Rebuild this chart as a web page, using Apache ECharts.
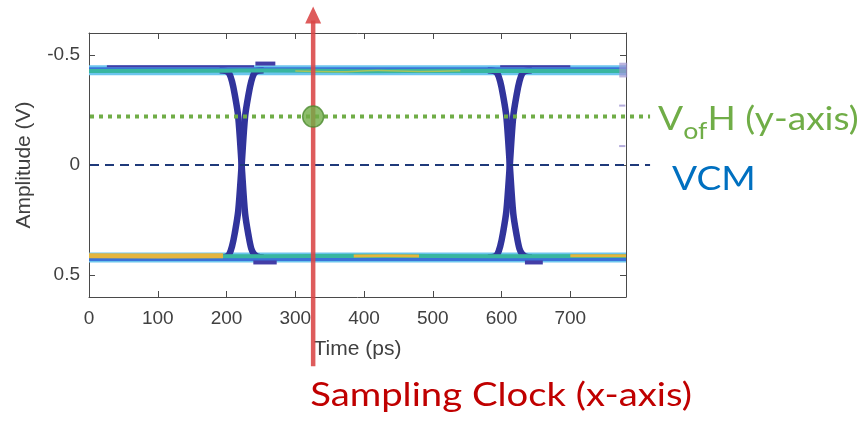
<!DOCTYPE html>
<html>
<head>
<meta charset="utf-8">
<script src="https://cdn.jsdelivr.net/npm/echarts@6/dist/echarts.min.js"></script>
<style>
  html, body { margin: 0; padding: 0; background: #ffffff; }
  #chart { width: 865px; height: 422px; }
</style>
</head>
<body>
<div id="chart"></div>
<script>
// ---- axes ----
const timeRange = [0, 781];          // ps
const ampRange = [-0.6, 0.6];        // V (drawn inverted)
const timeTicks = [0, 100, 200, 300, 400, 500, 600, 700];
const ampTicks = [-0.5, 0, 0.5];

// ---- reference levels ----
const vofhLevel = -0.22;             // VofH threshold
const vcmLevel = 0;                  // common-mode level
const samplingTime = 326;            // ps, sampling clock position
const refLineSpan = [0, 816];        // reference lines run past the frame to their labels
const clockArrowSpan = [0.915, -0.72];

// ---- eye rails: [time ps, amplitude V] ----
const upperRailBand = [[0, -0.431], [781, -0.431]];
const upperRailBlue = [[0, -0.438], [781, -0.438]];
const upperRailCore = [[0, -0.427], [180, -0.428], [260, -0.430], [400, -0.426], [520, -0.428], [781, -0.427]];
const upperRailGlint = [[300, -0.427], [360, -0.424], [420, -0.429], [480, -0.425], [540, -0.428]];
const upperOvershootA = [[26, -0.449], [240, -0.449]];
const upperBumpA = [[242, -0.461], [271, -0.461]];
const upperOvershootB = [[598, -0.449], [700, -0.449]];

const lowerRailBand = [[0, 0.420], [781, 0.420]];
const lowerRailBlue = [[0, 0.429], [781, 0.429]];
const lowerRailCore = [[0, 0.414], [250, 0.415], [400, 0.413], [600, 0.415], [781, 0.414]];
const lowerRailWarmA = [[0, 0.413], [100, 0.414], [195, 0.413]];
const lowerRailWarmB = [[385, 0.414], [430, 0.412], [480, 0.414]];
const lowerRailWarmC = [[700, 0.413], [781, 0.413]];
const lowerUndershootA = [[239, 0.443], [273, 0.443]];
const lowerUndershootB = [[634, 0.443], [660, 0.443]];

// ---- transitions (eye crossings near 222 ps and 612 ps) ----
const edgeFall1 = [[190, -0.431], [199, -0.428], [204, -0.415], [208, -0.38], [212, -0.32], [217, -0.22], [222, 0],
  [227, 0.22], [232, 0.32], [236, 0.38], [240, 0.405], [245, 0.416], [254, 0.42]];
const edgeRise1 = [[190, 0.42], [199, 0.417], [204, 0.405], [208, 0.37], [212, 0.31], [217, 0.21], [222, 0],
  [227, -0.22], [232, -0.32], [236, -0.38], [240, -0.415], [245, -0.428], [254, -0.431]];
const edgeFall2 = [[580, -0.431], [589, -0.428], [594, -0.415], [598, -0.38], [602, -0.32], [607, -0.22], [612, 0],
  [617, 0.22], [622, 0.32], [626, 0.38], [630, 0.405], [635, 0.416], [644, 0.42]];
const edgeRise2 = [[580, 0.42], [589, 0.417], [594, 0.405], [598, 0.37], [602, 0.31], [607, 0.21], [612, 0],
  [617, -0.22], [622, -0.32], [626, -0.38], [630, -0.415], [635, -0.428], [644, -0.431]];

// faint marks at the right frame edge
const edgeBlob = [[777, -0.465], [777, -0.398]];
const edgeTickA = [[771, -0.27], [780, -0.27]];
const edgeTickB = [[771, -0.086], [780, -0.086]];

const C = {
  traceBlue: '#31349c',
  band: '#6cc5ee',
  blue: '#3a72d8',
  teal: '#38b6a0',
  glint: '#a6c55a',
  warm: '#e4b53e',
  darkEdge: '#433da6',
  green: '#70ad47',
  navy: '#1f3a7a',
  red: 'rgba(218, 70, 70, 0.88)',
  axis: '#4a4a4a',
  text: '#404040'
};

function line(data, color, width, z, extra) {
  return Object.assign({
    type: 'line',
    data: data,
    symbol: 'none',
    silent: true,
    animation: false,
    z: z,
    lineStyle: { color: color, width: width, cap: 'butt' }
  }, extra || {});
}

const series = [
  line(upperRailBand, C.band, 10, 2),
  line(lowerRailBand, C.band, 10, 2),
  line(edgeFall1, C.traceBlue, 6.5, 3, { smooth: 0.3 }),
  line(edgeRise1, C.traceBlue, 6.5, 3, { smooth: 0.3 }),
  line(edgeFall2, C.traceBlue, 6.5, 3, { smooth: 0.3 }),
  line(edgeRise2, C.traceBlue, 6.5, 3, { smooth: 0.3 }),
  line(upperRailBlue, C.blue, 3, 4),
  line(upperRailCore, C.teal, 4, 4, { smooth: true }),
  line(upperRailGlint, C.glint, 1.5, 5, { smooth: true }),
  line(upperOvershootA, C.darkEdge, 2, 4),
  line(upperBumpA, C.darkEdge, 4, 4),
  line(upperOvershootB, C.darkEdge, 2, 4),
  line(lowerRailBlue, C.blue, 3, 4),
  line(lowerRailCore, C.teal, 4, 4, { smooth: true }),
  line(lowerRailWarmA, C.warm, 5, 5, { smooth: true }),
  line(lowerRailWarmB, C.warm, 3, 5, { smooth: true }),
  line(lowerRailWarmC, C.warm, 3, 5),
  line(lowerUndershootA, C.darkEdge, 4, 4),
  line(lowerUndershootB, C.darkEdge, 4, 4),
  line(edgeBlob, 'rgba(160,150,210,0.7)', 8, 6),
  line(edgeTickA, 'rgba(160,150,210,0.8)', 2, 6),
  line(edgeTickB, 'rgba(160,150,210,0.8)', 2, 6),
  {
    type: 'scatter',
    data: [[samplingTime, vofhLevel]],
    symbolSize: 21,
    silent: true,
    animation: false,
    z: 100,
    itemStyle: { color: C.green, borderColor: '#4b8a2e', borderWidth: 1.5 }
  }
];

const tickFont = { fontFamily: 'Liberation Sans', fontSize: 19, color: C.text };
const nameFont = { fontFamily: 'Liberation Sans', fontSize: 21, color: C.text };

const option = {
  backgroundColor: '#ffffff',
  animation: false,
  grid: { left: 89, right: 239, top: 33, bottom: 125 },
  xAxis: [
    {
      type: 'value', position: 'bottom', min: timeRange[0], max: timeRange[1],
      name: 'Time (ps)', nameLocation: 'middle', nameGap: 42, nameTextStyle: nameFont,
      axisLine: { show: true, onZero: false, lineStyle: { color: C.axis, width: 1 } },
      axisTick: { show: true, inside: true, length: 6, customValues: timeTicks, lineStyle: { color: C.axis } },
      axisLabel: Object.assign({ customValues: timeTicks, margin: 12 }, tickFont),
      splitLine: { show: false }
    },
    {
      type: 'value', position: 'top', min: timeRange[0], max: timeRange[1],
      axisLine: { show: true, onZero: false, lineStyle: { color: C.axis, width: 1 } },
      axisTick: { show: true, inside: true, length: 6, customValues: timeTicks, lineStyle: { color: C.axis } },
      axisLabel: { show: false },
      splitLine: { show: false }
    }
  ],
  yAxis: [
    {
      type: 'value', position: 'left', inverse: true, min: ampRange[0], max: ampRange[1],
      name: 'Amplitude (V)', nameLocation: 'middle', nameGap: 54, nameTextStyle: nameFont,
      axisLine: { show: true, onZero: false, lineStyle: { color: C.axis, width: 1 } },
      axisTick: { show: true, inside: true, length: 6, customValues: ampTicks, lineStyle: { color: C.axis } },
      axisLabel: Object.assign({ customValues: ampTicks, margin: 9 }, tickFont),
      splitLine: { show: false }
    },
    {
      type: 'value', position: 'right', inverse: true, min: ampRange[0], max: ampRange[1],
      axisLine: { show: true, onZero: false, lineStyle: { color: C.axis, width: 1 } },
      axisTick: { show: true, inside: true, length: 6, customValues: ampTicks, lineStyle: { color: C.axis } },
      axisLabel: { show: false },
      splitLine: { show: false }
    }
  ],
  series: series
};

const chart = echarts.init(document.getElementById('chart'), null, { renderer: 'canvas' });
chart.setOption(option);

// ---- reference lines and annotations, placed through the axis scales ----
const toPx = (t, v) => chart.convertToPixel({ xAxisIndex: 0, yAxisIndex: 0 }, [t, v]);
const arrowBottom = toPx(samplingTime, clockArrowSpan[0]);
const arrowTip = toPx(samplingTime, clockArrowSpan[1]);
const vofhStart = toPx(refLineSpan[0], vofhLevel);
const vofhEnd = toPx(refLineSpan[1], vofhLevel);
const vcmStart = toPx(refLineSpan[0], vcmLevel);
const vcmEnd = toPx(refLineSpan[1], vcmLevel);

const labelFont = 'Lato';
const bigSize = 32;
const clockSize = 33;
const subSize = 23;
const stretch = 1.16;
const measure = (() => {
  const ctx = document.createElement('canvas').getContext('2d');
  return (text, size) => { ctx.font = size + 'px ' + labelFont; return ctx.measureText(text).width * stretch; };
})();

const vx = vofhEnd[0] + 8;
const vTop = vofhEnd[1] - 13;    // top of the V / H text box
const wV = measure('V', bigSize);
const wOf = measure('of', subSize);
const ax = arrowTip[0];

function label(text, x, y, size, fill) {
  return {
    type: 'text', z: 60, silent: true, x: x, y: y, scaleX: stretch,
    style: { text: text, fill: fill, font: size + 'px ' + labelFont, verticalAlign: 'top' }
  };
}

chart.setOption({
  graphic: [
    {
      type: 'line', z: 40, silent: true,
      shape: { x1: vofhStart[0] + 1, y1: vofhStart[1], x2: vofhEnd[0], y2: vofhEnd[1] },
      style: { stroke: C.green, lineWidth: 4, lineDash: [4, 5] }
    },
    {
      type: 'line', z: 40, silent: true,
      shape: { x1: vcmStart[0] + 1, y1: vcmStart[1], x2: vcmEnd[0], y2: vcmEnd[1] },
      style: { stroke: C.navy, lineWidth: 2, lineDash: [9, 6] }
    },
    {
      type: 'line', z: 50, silent: true,
      shape: { x1: ax, y1: arrowBottom[1], x2: ax, y2: arrowTip[1] + 14 },
      style: { stroke: C.red, lineWidth: 4.5 }
    },
    {
      type: 'polygon', z: 50, silent: true,
      shape: { points: [[ax - 8, arrowTip[1] + 17], [ax + 8, arrowTip[1] + 17], [ax, arrowTip[1]]] },
      style: { fill: C.red }
    },
    label('Sampling Clock (x-axis)', ax - 3, arrowBottom[1] + 13, clockSize, '#c00000'),
    label('V', vx, vTop, bigSize, C.green),
    label('of', vx + wV, vTop + 16, subSize, C.green),
    label('H (y-axis)', vx + wV + wOf, vTop, bigSize, C.green),
    label('VCM', vcmEnd[0] + 22, vcmEnd[1] - 1, bigSize, '#0070c0')
  ]
});
</script>
</body>
</html>
